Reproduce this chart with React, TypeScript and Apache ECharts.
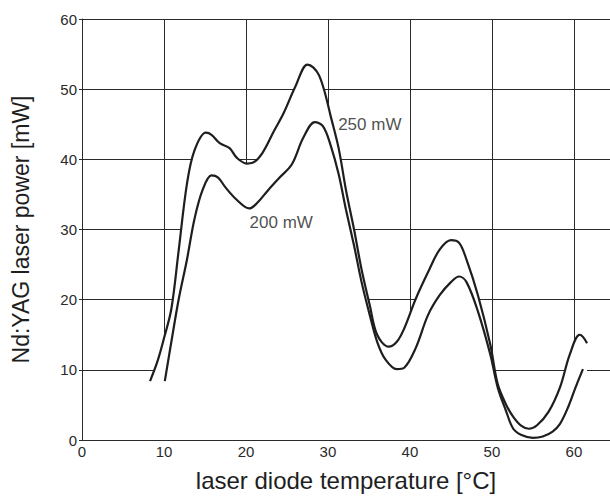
import React, { useEffect, useRef } from "react";
import * as echarts from "echarts";

// laser diode temperature [°C] vs Nd:YAG laser power [mW]
const temp250 = [8.3, 9.2, 10.0, 10.9, 11.8, 12.8, 13.7, 15.1, 15.8, 16.8, 18.0, 18.9, 20.1, 20.8, 22.0, 23.4, 24.6, 26.0, 27.5, 28.2, 28.9, 29.6, 30.3, 31.3, 32.2, 33.2, 34.1, 35.1, 36.0, 37.4, 38.4, 39.3, 40.7, 42.2, 43.6, 45.0, 46.0, 46.9, 48.3, 49.8, 50.7, 51.7, 52.6, 53.6, 54.5, 55.5, 56.9, 58.3, 59.5, 60.7, 61.1, 61.6];
const power250 = [8.4, 11.2, 14.5, 18.7, 27.1, 36.5, 41.2, 43.8, 43.5, 42.3, 41.6, 40.2, 39.4, 39.5, 40.9, 44.0, 46.6, 50.3, 53.5, 53.1, 52.0, 49.6, 46.3, 41.6, 35.6, 29.9, 24.3, 19.2, 15.0, 13.3, 14.0, 15.9, 20.1, 23.9, 27.1, 28.5, 28.1, 25.7, 20.6, 13.6, 8.0, 5.1, 3.3, 2.0, 1.6, 2.1, 4.0, 7.5, 12.2, 15.0, 14.7, 13.8];

const temp200 = [10.1, 10.9, 11.8, 12.8, 13.7, 14.7, 15.8, 16.6, 17.5, 18.9, 20.4, 21.3, 22.7, 24.1, 25.6, 27.0, 28.4, 29.4, 30.3, 31.3, 32.2, 33.2, 34.1, 35.1, 36.0, 37.0, 38.4, 39.3, 40.7, 42.2, 43.6, 45.0, 46.0, 46.9, 48.3, 49.8, 50.7, 51.7, 52.6, 53.6, 55.0, 56.2, 57.4, 58.3, 59.3, 60.2, 61.1];
const power200 = [8.4, 14.0, 20.1, 25.7, 31.4, 35.6, 37.7, 37.4, 36.0, 34.2, 33.0, 33.7, 35.6, 37.4, 39.3, 43.1, 45.3, 44.7, 42.1, 37.9, 32.8, 27.6, 22.5, 17.8, 14.0, 11.5, 10.1, 10.3, 13.1, 17.8, 20.6, 22.5, 23.3, 22.5, 18.3, 12.2, 7.5, 4.2, 1.6, 0.7, 0.3, 0.5, 1.2, 2.3, 4.7, 7.5, 10.1];

const labelTexts = ["250 mW", "200 mW"];
const labelX = [35.1, 24.3];
const labelY = [44.9, 31.0];

const xTicks = [0, 10, 20, 30, 40, 50, 60];
const yTicks = [0, 10, 20, 30, 40, 50, 60];

const FONT = "'Liberation Sans', Arial, sans-serif";
const INK = "#1e1e1e";

export default function App() {
  const ref = useRef<HTMLDivElement>(null);
  useEffect(() => {
    if (!ref.current) return;
    const chart = echarts.init(ref.current, undefined, { renderer: "svg" });
    const d250 = temp250.map((t, i) => [t, power250[i]]);
    const d200 = temp200.map((t, i) => [t, power200[i]]);
    const labels = labelTexts.map((s, i) => ({ value: [labelX[i], labelY[i]], name: s }));
    const xMax = 64.4;
    chart.setOption({
      animation: false,
      backgroundColor: "#ffffff",
      grid: { left: 82, right: 0, top: 19, bottom: 51, containLabel: false },
      xAxis: [
        {
          type: "value",
          min: 0,
          max: xMax,
          interval: 10,
          z: 0,
          name: "laser diode temperature [°C]",
          nameLocation: "middle",
          nameGap: 28,
          nameTextStyle: { fontFamily: FONT, fontSize: 24, color: INK },
          axisLine: { show: false },
          axisTick: { show: false },
          splitLine: { show: true, lineStyle: { color: "#2a2a2a", width: 1 } },
          axisLabel: {
            fontFamily: FONT,
            fontSize: 15,
            color: "#2a2a2a",
            margin: 4,
            showMaxLabel: false,
            formatter: (v: number) => (xTicks.includes(v) ? String(v) : ""),
          },
        },
        {
          type: "value",
          min: 0,
          max: xMax,
          interval: 10,
          position: "bottom",
          z: 10,
          axisLine: { show: true, onZero: false, lineStyle: { color: "#2a2a2a", width: 1 } },
          axisTick: { show: false },
          splitLine: { show: false },
          axisLabel: { show: false },
        },
      ],
      yAxis: [
        {
          type: "value",
          min: 0,
          max: 60,
          interval: 10,
          z: 0,
          name: "Nd:YAG laser power [mW]",
          nameLocation: "middle",
          nameGap: 50,
          nameTextStyle: { fontFamily: FONT, fontSize: 23, color: INK },
          axisLine: { show: false },
          axisTick: { show: false },
          splitLine: { show: true, lineStyle: { color: "#2a2a2a", width: 1 } },
          axisLabel: {
            fontFamily: FONT,
            fontSize: 15,
            color: "#2a2a2a",
            margin: 5,
            formatter: (v: number) => (yTicks.includes(v) ? String(v) : ""),
          },
        },
        {
          type: "value",
          min: 0,
          max: 60,
          interval: 10,
          position: "left",
          z: 10,
          axisLine: { show: true, onZero: false, lineStyle: { color: "#2a2a2a", width: 1 } },
          axisTick: { show: true, length: 3, lineStyle: { color: "#2a2a2a" } },
          splitLine: { show: false },
          axisLabel: { show: false },
        },
      ],
      series: [
        {
          type: "line",
          data: d250,
          smooth: 0.35,
          showSymbol: false,
          z: 2,
          lineStyle: { width: 0, opacity: 0 },
          areaStyle: { color: "#ffffff", opacity: 1 },
          silent: true,
        },
        {
          type: "line",
          data: d250,
          smooth: 0.35,
          showSymbol: false,
          z: 4,
          lineStyle: { width: 2.2, color: INK },
        },
        {
          type: "line",
          data: d200,
          smooth: 0.35,
          showSymbol: false,
          z: 4,
          lineStyle: { width: 2.2, color: INK },
        },
        {
          type: "scatter",
          data: labels,
          symbolSize: 0,
          z: 5,
          label: {
            show: true,
            position: "inside",
            formatter: (p: any) => p.name,
            fontFamily: FONT,
            fontSize: 17,
            color: "#222",
          },
        },
      ],
    });
    return () => chart.dispose();
  }, []);
  return (
    <div
      ref={ref}
      style={{ position: "absolute", left: 0, top: 0, width: 610, height: 497 }}
    />
  );
}
